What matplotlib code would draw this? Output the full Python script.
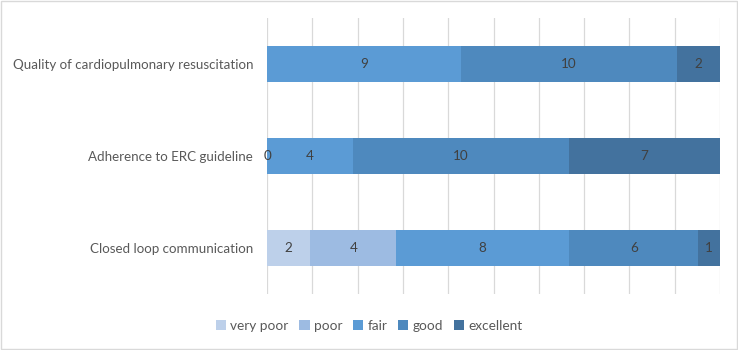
import numpy as np
import matplotlib.pyplot as plt
from matplotlib.patches import Rectangle

# ---------------------------------------------------------------
# Data (bottom to top, as drawn on the y axis)
# ---------------------------------------------------------------

categories = ["Closed loop communication",
              "Adherence to ERC guideline",
              "Quality of cardiopulmonary resuscitation"]

levels = ["very poor", "poor", "fair", "good", "excellent"]

very_poor = [2, np.nan, np.nan]
poor      = [4, 0, np.nan]
fair      = [8, 4, 9]
good      = [6, 10, 10]
excellent = [1, 7, 2]

colors = ["#BDD0EA", "#9DBBE2", "#5B9BD5", "#4E89BE", "#43729E"]

plt.rcParams['font.family'] = ['Lato', 'DejaVu Sans']

fig = plt.figure(figsize=(7.38, 3.5), dpi=100)
ax = fig.add_axes([0.3618, 0.16, 0.6138, 0.7886])

series = [very_poor, poor, fair, good, excellent]
data = np.array(series, dtype=float)
totals = np.nansum(data, axis=0)
pct = np.nan_to_num(data) / totals * 100.0

y = np.arange(len(categories))
left = np.zeros(len(categories))
for i, name in enumerate(levels):
    ax.barh(y, pct[i], left=left, height=0.4, color=colors[i],
            label=name, zorder=2)
    for j in range(len(categories)):
        v = data[i][j]
        if not np.isnan(v):
            ax.text(left[j] + pct[i][j] / 2, y[j], "%d" % v,
                    ha='center', va='center', fontsize=9.7,
                    color='#404040', zorder=3)
    left = left + pct[i]

ax.set_xlim(0, 100)
ax.set_ylim(-0.5, 2.5)
ax.set_xticks(np.arange(0, 101, 10))
ax.xaxis.grid(True, color='#D9D9D9', linewidth=0.9, zorder=0)
ax.tick_params(axis='x', length=0, labelbottom=False)
ax.tick_params(axis='y', length=0, pad=10)
ax.set_yticks(y)
ax.set_yticklabels(categories, fontsize=9.65, color='#595959')
for s in ax.spines.values():
    s.set_visible(False)

fig.legend(loc='center', bbox_to_anchor=(0.5, 0.07), ncol=5,
           frameon=False, fontsize=9.8, handlelength=0.75,
           handleheight=0.75, handletextpad=0.3, columnspacing=0.8,
           labelcolor='#595959')

fig.patches.append(Rectangle((0.001, 0.002), 0.997, 0.995,
                             transform=fig.transFigure, fill=False,
                             edgecolor='#D9D9D9', linewidth=1))

fig.savefig("out.png", dpi=100)
